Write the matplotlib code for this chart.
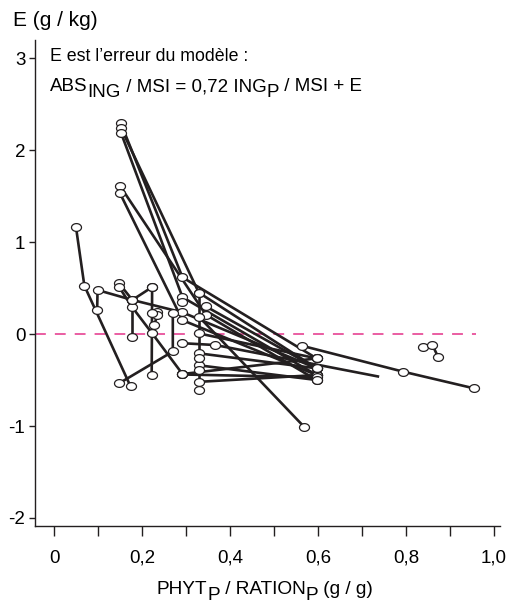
import matplotlib
matplotlib.use("Agg")
import matplotlib.pyplot as plt
import numpy as np
from matplotlib.path import Path

plt.rcParams['font.family'] = ['Liberation Sans', 'DejaVu Sans']

# ---- data: each experiment is a polyline (x = PHYT_P/RATION_P, y = E) ----
exp_a_x = [0.050, 0.069, 0.174]
exp_a_y = [1.16, 0.525, -0.57]
exp_b_x = [0.098, 0.099, 0.178, 0.292, 0.597]
exp_b_y = [0.258, 0.478, 0.37, 0.235, -0.373]
exp_c_x = [0.148, 0.178, 0.223]
exp_c_y = [0.55, 0.37, 0.51]
exp_d_x = [0.148, 0.178, 0.223, 0.292]
exp_d_y = [0.51, 0.29, 0.007, -0.435]
exp_e_x = [0.178, 0.178]
exp_e_y = [0.37, -0.03]
exp_f_x = [0.223, 0.222]
exp_f_y = [0.51, -0.445]
exp_g_x = [0.235, 0.235, 0.228]
exp_g_y = [0.24, 0.21, 0.10]
exp_h_x = [0.148, 0.270, 0.270]
exp_h_y = [-0.536, -0.19, 0.225]
exp_i_x = [0.152, 0.292, 0.597]
exp_i_y = [2.29, 0.616, -0.265]
exp_j_x = [0.152, 0.329, 0.597]
exp_j_y = [2.24, 0.45, -0.373]
exp_k_x = [0.152, 0.292, 0.597]
exp_k_y = [2.19, 0.40, -0.446]
exp_l_x = [0.150, 0.345, 0.597]
exp_l_y = [1.61, 0.21, -0.50]
exp_m_x = [0.150, 0.292, 0.597]
exp_m_y = [1.53, 0.15, -0.446]
exp_n_x = [0.329, 0.568]
exp_n_y = [0.19, -1.007]
exp_o_x = [0.292, 0.367, 0.739]
exp_o_y = [-0.10, -0.12, -0.464]
exp_p_x = [0.563, 0.794, 0.954]
exp_p_y = [-0.127, -0.41, -0.59]
exp_q_x = [0.838, 0.860, 0.873]
exp_q_y = [-0.138, -0.12, -0.25]
exp_r_x = [0.292, 0.597]
exp_r_y = [-0.435, -0.265]
exp_s_x = [0.329, 0.597]
exp_s_y = [-0.52, -0.446]
exp_t_x = [0.292, 0.597]
exp_t_y = [-0.44, -0.47]
exp_u_x = [0.329, 0.329]
exp_u_y = [0.45, -0.61]
exp_w_x = [0.329, 0.597]
exp_w_y = [-0.21, -0.373]
exp_x_x = [0.329, 0.597]
exp_x_y = [-0.34, -0.50]
exp_y_x = [0.329, 0.597]
exp_y_y = [0.007, -0.265]
exp_z_x = [0.345, 0.597]
exp_z_y = [0.30, -0.373]
extra_pts_x = [0.223, 0.329, 0.329, 0.292]
extra_pts_y = [0.225, -0.265, -0.39, 0.345]

x_ticks = [0, 0.2, 0.4, 0.6, 0.8, 1.0]
x_ticklabels = ["0", "0,2", "0,4", "0,6", "0,8", "1,0"]
y_ticks = [-2, -1, 0, 1, 2, 3]
y_ticklabels = ["-2", "-1", "0", "1", "2", "3"]

# (x, y, marker on which points)
series = [
    (exp_a_x, exp_a_y, 'all'), (exp_b_x, exp_b_y, 'all'), (exp_c_x, exp_c_y, 'all'),
    (exp_d_x, exp_d_y, 'all'), (exp_e_x, exp_e_y, 'all'), (exp_f_x, exp_f_y, 'all'),
    (exp_g_x, exp_g_y, 'all'), (exp_h_x, exp_h_y, 'all'), (exp_i_x, exp_i_y, 'all'),
    (exp_j_x, exp_j_y, 'all'), (exp_k_x, exp_k_y, 'all'), (exp_l_x, exp_l_y, 'all'),
    (exp_m_x, exp_m_y, 'all'), (exp_n_x, exp_n_y, 'all'), (exp_o_x, exp_o_y, 'nolast'),
    (exp_p_x, exp_p_y, 'all'), (exp_q_x, exp_q_y, 'all'), (exp_r_x, exp_r_y, 'all'),
    (exp_s_x, exp_s_y, 'all'), (exp_t_x, exp_t_y, 'all'), (exp_u_x, exp_u_y, 'all'),
    (exp_w_x, exp_w_y, 'all'), (exp_x_x, exp_x_y, 'all'), (exp_y_x, exp_y_y, 'all'),
    (exp_z_x, exp_z_y, 'all'),
]

W, H = 509, 607
fig = plt.figure(figsize=(W / 100, H / 100), dpi=100)
ax = fig.add_axes([35 / W, 1 - 526 / H, (500 - 35) / W, (526 - 40) / H])

line_col = '#231f20'
ax.axhline(0, xmin=0, xmax=(0.96 + 0.0432) / (1.0136 + 0.0432), color='#e8519b',
           lw=1.3, dashes=(6, 5), zorder=1)

t = np.linspace(0, 2 * np.pi, 40)
ellipse = Path(np.column_stack([np.cos(t), 0.78 * np.sin(t)]), closed=True)

mx, my = [], []
for xs, ys, mk in series:
    ax.plot(xs, ys, color=line_col, lw=1.9, solid_capstyle='butt', zorder=2)
    n = len(xs) if mk == 'all' else len(xs) - 1
    mx.extend(xs[:n])
    my.extend(ys[:n])
mx.extend(extra_pts_x)
my.extend(extra_pts_y)
ax.plot(mx, my, ls='none', marker=ellipse, ms=7.2, mfc='white', mec=line_col, mew=0.9, zorder=3)

ax.set_xlim(-0.0432, 1.0136)
ax.set_ylim(-2.087, 3.196)
for s in ['top', 'right']:
    ax.spines[s].set_visible(False)
for s in ['left', 'bottom']:
    ax.spines[s].set_linewidth(1.0)
    ax.spines[s].set_color(line_col)

ax.set_xticks(x_ticks)
ax.set_xticklabels(x_ticklabels, fontsize=13.5)
ax.set_xticks([0.1, 0.3, 0.5, 0.7, 0.9], minor=True)
ax.set_yticks(y_ticks)
ax.set_yticklabels(y_ticklabels, fontsize=13.5)
ax.tick_params(axis='x', which='both', direction='out', length=7, width=1, pad=10, color=line_col)
ax.tick_params(axis='y', direction='out', length=4, width=1, pad=3, color=line_col)

renderer = fig.canvas.get_renderer()


def pieces_text(x_px, y_px, pieces, fontsize, center=False):
    """Draw text pieces side by side; pieces = [(text, drop_px)], baseline at y_px."""
    widths = []
    for s, _ in pieces:
        tt = fig.text(0, 0, s, fontsize=fontsize)
        widths.append(tt.get_window_extent(renderer).width)
        tt.remove()
    total = sum(widths)
    x = x_px - total / 2 if center else x_px
    for (s, drop), w in zip(pieces, widths):
        fig.text(x / W, 1 - (y_px + drop) / H, s, fontsize=fontsize,
                 va='baseline', ha='left')
        x += w


fig.text(13 / W, 1 - 26 / H, "E (g / kg)", fontsize=15, va='baseline', ha='left')
fig.text(50 / W, 1 - 61 / H, "E est l\u2019erreur du modèle :", fontsize=12.8,
         va='baseline', ha='left')
pieces_text(50, 91, [("ABS", 0), ("ING", 6), (" / MSI = 0,72 ING", 0), ("P", 6),
                     (" / MSI + E", 0)], 13.5)
pieces_text(265, 594, [("PHYT", 0), ("P", 6), (" / RATION", 0), ("P", 6), (" (g / g)", 0)],
            13.7, center=True)

fig.savefig("out.png", dpi=100)
